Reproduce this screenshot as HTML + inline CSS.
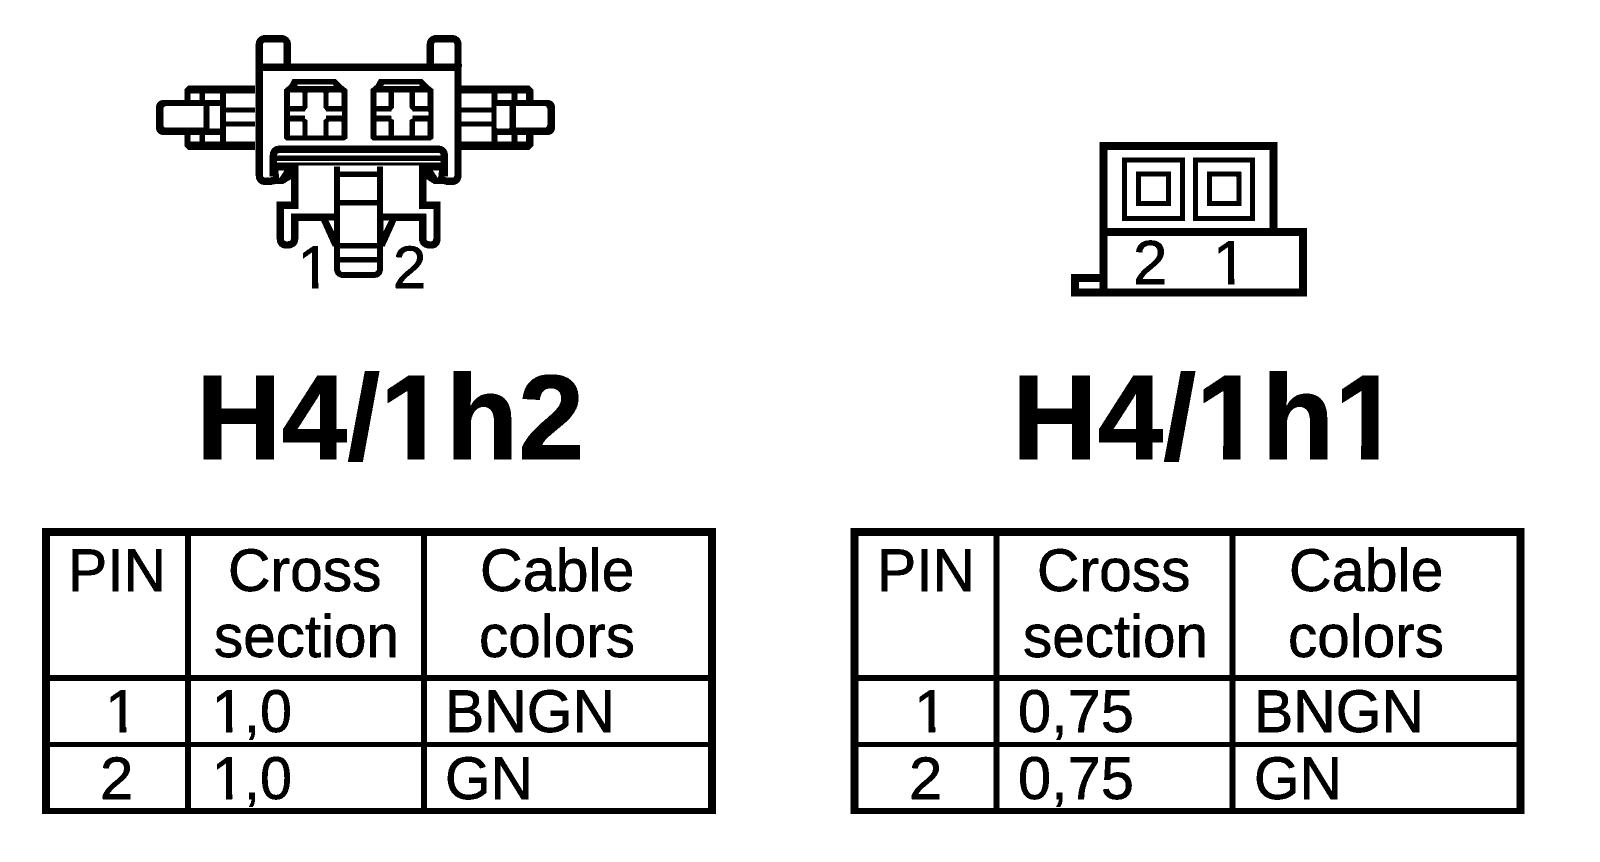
<!DOCTYPE html>
<html><head><meta charset="utf-8"><style>
html,body{margin:0;padding:0;background:#fff;width:1600px;height:862px;overflow:hidden}
svg{display:block}
text{font-family:"Liberation Sans",sans-serif;fill:#000;stroke:#000;stroke-width:.7px}
.t{font-size:60px}
.h{font-size:121px;font-weight:bold;stroke-width:1px}
.w{fill:#fff}
</style></head><body>
<svg width="1600" height="862" viewBox="0 0 1600 862" xmlns="http://www.w3.org/2000/svg">
<defs>
<filter id="b" x="0" y="0" width="100%" height="100%" color-interpolation-filters="sRGB"><feComponentTransfer><feFuncR type="discrete" tableValues="0 1"/><feFuncG type="discrete" tableValues="0 1"/><feFuncB type="discrete" tableValues="0 1"/></feComponentTransfer></filter>
<g id="sq">
<path d="M68,27H198L215,45L232,58V205L222,212H50L42,205V58L58,45Z"/>
<g fill="#fff">
<rect x="82" y="44" width="108" height="4"/>
<rect x="60" y="68" width="37" height="40"/><rect x="176" y="68" width="38" height="40"/>
<rect x="60" y="155" width="37" height="42"/><rect x="176" y="155" width="38" height="42"/>
<path d="M113,68H160V113L168,122V125H216V137H168V146L160,150V197H113V150L105,146V137H60V125H105V122L113,113Z"/>
</g>
</g>
<g id="tbl">
<rect x="42" y="528" width="674" height="8"/><rect x="42" y="808" width="674" height="6"/>
<rect x="42" y="528" width="8" height="286"/><rect x="708" y="528" width="8" height="286"/>
<rect x="185" y="528" width="6" height="286"/><rect x="421" y="528" width="6" height="286"/>
<rect x="42" y="675" width="674" height="6"/><rect x="42" y="742" width="674" height="5"/>
</g>
</defs>
<g filter="url(#b)">
<rect width="1600" height="862" fill="#fff"/>

<!-- left connector -->
<g transform="translate(140,20) scale(.33333)">
<g fill="none" stroke="#000" stroke-width="22">
<path d="M358,142V75Q358,56 378,56H422Q442,56 442,75V142"/>
<path d="M871,142V75Q871,56 891,56H934Q954,56 954,75V142"/>
<path d="M358,142H954V465Q954,484 935,484H925Q908,484 880,462"/>
<path d="M358,142V465Q358,484 377,484H387Q410,484 432,462"/>
<path d="M400,470V408Q400,388 420,388H893Q913,388 913,408V470"/>
<path stroke-width="16" d="M400,415H913"/>
<path stroke-width="8" d="M408,432H905"/>
<path d="M410,444H464V556H421V655Q421,675 440,675Q464,675 464,655V592H590"/>
<path d="M902,444H848V556H891V655Q891,675 872,675Q848,675 848,655V592H722"/>
</g>
<path d="M400,436H465V470L430,492H400Z"/>
<path d="M912,436H847V470L882,492H912Z"/>
<path class="w" d="M415,452H433L418,475Z"/>
<path class="w" d="M897,452H879L894,475Z"/>
<path d="M542,600H590V680H578Z"/><path d="M770,600H722V680H734Z"/>
<path class="w" d="M565,601H582V635Z"/><path class="w" d="M747,601H730V635Z"/>
<g fill="none" stroke="#000">
<path stroke-width="18" d="M591,440V745Q591,765 611,765H701Q720,765 720,745V440"/>
<path stroke-width="16" d="M591,463H720M591,548H720M591,677H720M591,719H720"/>
</g>
<!-- left wing -->
<path d="M345,196H145L133,208V240H72Q48,240 48,264V321Q48,345 72,345H133V378L145,390H345Z"/>
<g fill="#fff">
<rect x="152" y="220" width="26" height="20"/><rect x="195" y="220" width="45" height="20"/>
<rect x="152" y="345" width="26" height="20"/><rect x="195" y="345" width="45" height="20"/>
<path d="M80,258H190V323H80Q70,323 70,313V268Q70,258 80,258Z"/>
<rect x="208" y="258" width="32" height="67"/>
<rect x="258" y="220" width="88" height="43"/><rect x="258" y="277" width="88" height="28"/><rect x="258" y="320" width="88" height="45"/>
</g>
<!-- right wing -->
<path d="M965,196H1168L1180,208V240H1221Q1245,240 1245,264V321Q1245,345 1221,345H1180V378L1168,390H965Z"/>
<g fill="#fff">
<rect x="1072" y="220" width="43" height="20"/><rect x="1133" y="220" width="25" height="20"/>
<rect x="1072" y="345" width="43" height="20"/><rect x="1133" y="345" width="25" height="20"/>
<path d="M1128,258H1212Q1222,258 1222,268V313Q1222,323 1212,323H1128Z"/>
<rect x="1070" y="258" width="38" height="67"/>
<rect x="965" y="220" width="90" height="43"/><rect x="965" y="277" width="90" height="28"/><rect x="965" y="320" width="90" height="45"/>
</g>
</g>
<g transform="translate(270,70) scale(.33333)">
<use href="#sq"/><use href="#sq" x="259"/>
</g>
<text class="t" x="297.500" y="288">1</text>
<rect class="w" x="299" y="283" width="12.800" height="6"/><rect class="w" x="318.500" y="283" width="14" height="6"/>
<text class="t" x="393" y="288">2</text>

<!-- right connector -->
<g transform="translate(1050,120) scale(.33333)" fill="none" stroke="#000" stroke-width="24">
<path d="M160,505V78H671V336"/>
<path d="M160,336H759V517H75V474H160"/>
<path stroke-width="15" d="M223.500,120.500H397.500V295.500H223.500Z"/>
<path stroke-width="15" d="M436.500,120.500H607.500V295.500H436.500Z"/>
<path stroke-width="15" d="M265.500,162.500H355.500V250.500H265.500Z"/>
<path stroke-width="15" d="M478.500,162.500H566.500V250.500H478.500Z"/>
</g>
<text class="t" x="1133" y="284" style="font-size:62px">2</text>
<text class="t" x="1212.700" y="284" style="font-size:62px">1</text>
<rect class="w" x="1215" y="279" width="12.800" height="6"/><rect class="w" x="1234.500" y="279" width="15" height="6"/>

<!-- titles -->
<text class="h" x="196" y="459" textLength="388" lengthAdjust="spacingAndGlyphs">H4/1h2</text>
<rect class="w" x="385" y="445" width="22.500" height="17"/><rect class="w" x="424.500" y="445" width="20" height="17"/>
<text class="h" x="1012" y="459" textLength="388" lengthAdjust="spacingAndGlyphs">H4/1h1</text>
<rect class="w" x="1201" y="445" width="22" height="17"/><rect class="w" x="1240.500" y="445" width="20" height="17"/>
<rect class="w" x="1339" y="445" width="22" height="17"/><rect class="w" x="1378.500" y="445" width="22" height="17"/>

<!-- left table -->
<use href="#tbl"/>
<text class="t" x="68" y="591" textLength="98" lengthAdjust="spacingAndGlyphs">PIN</text>
<text class="t" x="228" y="591" textLength="153.600" lengthAdjust="spacingAndGlyphs">Cross</text>
<text class="t" x="214" y="657" textLength="185" lengthAdjust="spacingAndGlyphs">section</text>
<text class="t" x="480" y="591" textLength="154.500" lengthAdjust="spacingAndGlyphs">Cable</text>
<text class="t" x="479" y="657" textLength="156" lengthAdjust="spacingAndGlyphs">colors</text>
<text class="t" x="105" y="732">1</text>
<rect class="w" x="108" y="727" width="11.300" height="6"/><rect class="w" x="126.300" y="727" width="14" height="6"/>
<text class="t" x="212" y="732" textLength="80" lengthAdjust="spacingAndGlyphs">1,0</text>
<rect class="w" x="214" y="727" width="12" height="6"/><rect class="w" x="232.300" y="727" width="11" height="6"/>
<text class="t" x="445" y="732" textLength="170" lengthAdjust="spacingAndGlyphs">BNGN</text>
<text class="t" x="100" y="799">2</text>
<text class="t" x="212" y="799" textLength="80" lengthAdjust="spacingAndGlyphs">1,0</text>
<rect class="w" x="214" y="794" width="12" height="6"/><rect class="w" x="232.300" y="794" width="11" height="6"/>
<text class="t" x="445" y="799" textLength="88" lengthAdjust="spacingAndGlyphs">GN</text>

<!-- right table -->
<use href="#tbl" x="808.500"/>
<text class="t" x="877" y="591" textLength="98" lengthAdjust="spacingAndGlyphs">PIN</text>
<text class="t" x="1037" y="591" textLength="153.600" lengthAdjust="spacingAndGlyphs">Cross</text>
<text class="t" x="1023" y="657" textLength="185" lengthAdjust="spacingAndGlyphs">section</text>
<text class="t" x="1289" y="591" textLength="154.500" lengthAdjust="spacingAndGlyphs">Cable</text>
<text class="t" x="1288" y="657" textLength="156" lengthAdjust="spacingAndGlyphs">colors</text>
<text class="t" x="914" y="732">1</text>
<rect class="w" x="917" y="727" width="11.300" height="6"/><rect class="w" x="935.300" y="727" width="14" height="6"/>
<text class="t" x="1018" y="732" textLength="116" lengthAdjust="spacingAndGlyphs">0,75</text>
<text class="t" x="1254" y="732" textLength="170" lengthAdjust="spacingAndGlyphs">BNGN</text>
<text class="t" x="909" y="799">2</text>
<text class="t" x="1018" y="799" textLength="116" lengthAdjust="spacingAndGlyphs">0,75</text>
<text class="t" x="1254" y="799" textLength="88" lengthAdjust="spacingAndGlyphs">GN</text>
</g>
</svg>
</body></html>
